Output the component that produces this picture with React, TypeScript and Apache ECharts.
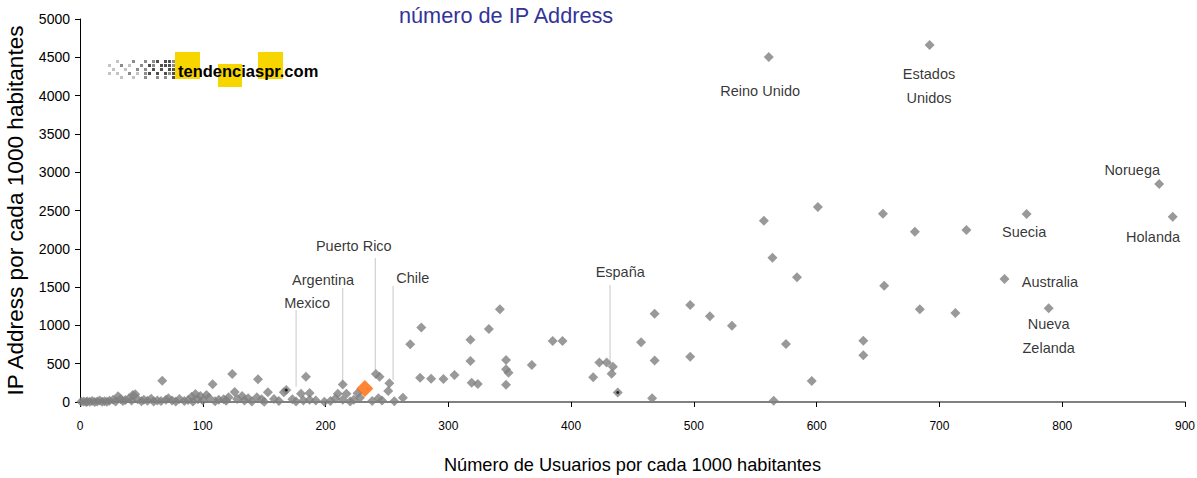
import React, { useEffect, useRef } from "react";
import * as echarts from "echarts";

const FONT_R = '"Liberation Sans", Arial, sans-serif';

const titleText = "número de IP Address";
const xAxisName = "Número de Usuarios por cada 1000 habitantes";
const yAxisName = "IP Address por cada 1000 habitantes";

// gray diamonds [usuarios, ip]
const grayPoints: [number, number][] = [
  [561, 4504], [692, 4661], [879, 2846], [890, 2420], [771, 2454], [753, 1606], [789, 1225],
  [557, 2367], [601, 2546], [654, 2459], [680, 2224], [722, 2245], [564, 1884], [584, 1628],
  [655, 1518], [684, 1210], [713, 1162], [575, 757], [638, 800], [638, 609], [596, 274], [565, 15],
  [468, 1151], [497, 1266], [513, 1121], [531, 996], [457, 781], [468, 541], [497, 592],
  [423, 515], [429, 515], [434, 461], [433, 370], [438, 124], [466, 50],
  [278, 972], [318, 814], [333, 953], [342, 1210], [318, 535], [277, 318], [286, 305], [296, 300],
  [305, 352], [319, 252], [324, 235], [347, 548], [347, 427], [349, 383], [347, 226], [368, 483],
  [385, 796], [393, 796], [418, 322], [269, 755], [263, 55], [256, 10], [251, 144], [252, 244],
  [243, 48], [244, 331], [241, 366], [226, 113], [223, 30], [214, 30], [217, 108], [210, 108],
  [214, 228], [199, 4], [187, 30], [182, 20], [187, 118], [180, 108], [184, 330], [173, 37],
  [168, 156], [166, 126], [153, 128], [150, 4], [145, 296], [144, 61], [137, 48], [132, 78],
  [126, 130], [121, 61], [124, 364], [108, 233], [117, 37], [103, 91], [94, 104], [98, 78],
  [91, 70], [67, 278], [45, 100], [43, 91], [31, 76],
  [1, 2], [3, 5], [5, 0], [6, 8], [8, 3], [10, 12], [12, 0], [14, 6], [16, 20], [18, 4],
  [20, 10], [22, 2], [24, 15], [27, 30], [29, 8], [33, 40], [35, 12], [37, 25], [40, 50],
  [42, 18], [47, 35], [50, 10], [52, 28], [55, 15], [58, 42], [60, 8], [63, 20], [66, 12],
  [70, 30], [72, 48], [75, 18], [78, 5], [81, 38], [85, 14], [88, 26], [92, 8], [96, 36],
  [100, 18], [105, 55], [110, 10], [113, 28], [119, 15], [128, 40], [134, 20], [140, 8],
  [148, 35], [158, 40], [162, 12], [176, 8], [192, 20], [204, 12], [208, 45], [220, 8],
  [228, 55], [238, 12], [246, 20],
];

// Puerto Rico highlighted
const highlightPoints: [number, number][] = [[232, 176]];

// small black dots drawn inside two diamonds
const dotPoints: [number, number][] = [[168, 156], [438, 124]];

// country labels (text centre in data units)
const labelNames = ["Reino Unido", "Estados\nUnidos", "Noruega", "Holanda", "Suecia", "Australia", "Nueva\nZelanda", "Mexico", "Argentina", "Puerto Rico", "Chile", "España"];
const labelX = [554, 691.5, 857, 874, 769, 790, 789, 185, 198, 223, 271, 440];
const labelY = [4060, 4125, 3029, 2154, 2219, 1567, 862, 1292, 1593, 2037, 1619, 1697];

// leader lines: x, top y, bottom y
const leaderX = [176, 214, 240.5, 255, 431.7];
const leaderTop = [1201, 1488, 1880, 1514, 1527];
const leaderBottom = [200, 222, 418, 287, 483];

// decorative logo pixels (1 light, 2 medium, 3 dark)
const logoRows = [
  "  1   2  2 23 3323",
  "1  2 1  2 32 33323",
  " 1  1  2 2 3 3 333",
  "1 1  2 1 23 3 3233",
  "   1  1  2  2 2 33",
];

function buildLogo(): any[] {
  const shades: Record<string, string> = { "1": "#c4c4c4", "2": "#8c8c8c", "3": "#505050" };
  const els: any[] = [];
  logoRows.forEach((row, r) => {
    row.split("").forEach((ch, c) => {
      if (shades[ch]) {
        els.push({ type: "rect", shape: { x: 108 + c * 4, y: 60 + r * 4, width: 3, height: 3 }, style: { fill: shades[ch] } });
      }
    });
  });
  els.push({ type: "rect", shape: { x: 175, y: 52, width: 25, height: 27 }, style: { fill: "#F7D600" } });
  els.push({ type: "rect", shape: { x: 218, y: 64, width: 24, height: 23 }, style: { fill: "#F7D600" } });
  els.push({ type: "rect", shape: { x: 258, y: 52, width: 25, height: 27 }, style: { fill: "#F7D600" } });
  els.push({
    type: "text", x: 178, y: 79,
    style: { text: "tendenciaspr.com", fill: "#000", font: 'bold 16.5px "Liberation Sans", sans-serif', textVerticalAlign: "bottom" },
  });
  return els;
}

export default function App() {
  const ref = useRef<HTMLDivElement>(null);
  useEffect(() => {
    if (!ref.current) return;
    const chart = echarts.init(ref.current, undefined, { renderer: "svg" });
    const leaderSeries = leaderX.map((x, i) => ({
      type: "line",
      data: [[x, leaderTop[i]], [x, leaderBottom[i]]],
      symbol: "none",
      silent: true,
      lineStyle: { color: "#c8c8c8", width: 1 },
      z: 1,
    }));
    chart.setOption({
      animation: false,
      backgroundColor: "#ffffff",
      title: {
        text: titleText, left: 399, top: 4, padding: 0,
        textStyle: { fontFamily: FONT_R, fontSize: 21.7, fontWeight: "normal", color: "#333399" },
      },
      grid: { left: 80, right: 12, top: 19, bottom: 76, containLabel: false, outerBoundsMode: "none" },
      xAxis: {
        type: "value", min: 0, max: 900, interval: 100,
        name: xAxisName, nameLocation: "middle", nameGap: 54,
        nameTextStyle: { fontFamily: FONT_R, fontSize: 18.2, color: "#000" },
        axisLine: { show: true, onZero: false, lineStyle: { color: "#808080", width: 2 } },
        axisTick: { show: true, length: 5, lineStyle: { color: "#000" } },
        axisLabel: { fontFamily: FONT_R, fontSize: 12, color: "#000", margin: 18, formatter: (v: number) => String(v) },
        splitLine: { show: false },
      },
      yAxis: {
        type: "value", min: 0, max: 5000, interval: 500,
        name: yAxisName, nameLocation: "middle", nameGap: 53, nameRotate: 90,
        nameTextStyle: { fontFamily: FONT_R, fontSize: 22.6, color: "#000" },
        axisLine: { show: true, lineStyle: { color: "#000", width: 1 } },
        axisTick: { show: true, length: 5, lineStyle: { color: "#000" } },
        axisLabel: { fontFamily: FONT_R, fontSize: 14, color: "#000", margin: 10, formatter: (v: number) => String(v) },
        splitLine: { show: false },
      },
      graphic: buildLogo(),
      series: [
        ...leaderSeries,
        {
          type: "scatter", data: grayPoints, symbol: "diamond", symbolSize: 10,
          itemStyle: { color: "#808080" }, clip: false, z: 3, silent: true,
        },
        {
          type: "scatter", data: highlightPoints, symbol: "diamond", symbolSize: 17,
          itemStyle: { color: "#FF6600" }, clip: false, z: 4, silent: true,
        },
        {
          type: "scatter", data: dotPoints, symbol: "circle", symbolSize: 3,
          itemStyle: { color: "#000" }, clip: false, z: 5, silent: true,
        },
        {
          type: "scatter",
          data: labelNames.map((n, i) => ({ name: n, value: [labelX[i], labelY[i]] })),
          symbolSize: 1, itemStyle: { color: "rgba(0,0,0,0)" }, clip: false, z: 6, silent: true,
          label: {
            show: true, position: "inside", formatter: "{b}",
            fontFamily: FONT_R, fontSize: 14.5, color: "#000", lineHeight: 24,
          },
        },
      ],
    });
    return () => chart.dispose();
  }, []);
  return <div ref={ref} style={{ position: "fixed", left: 0, top: 0, width: 1197, height: 478 }} />;
}
